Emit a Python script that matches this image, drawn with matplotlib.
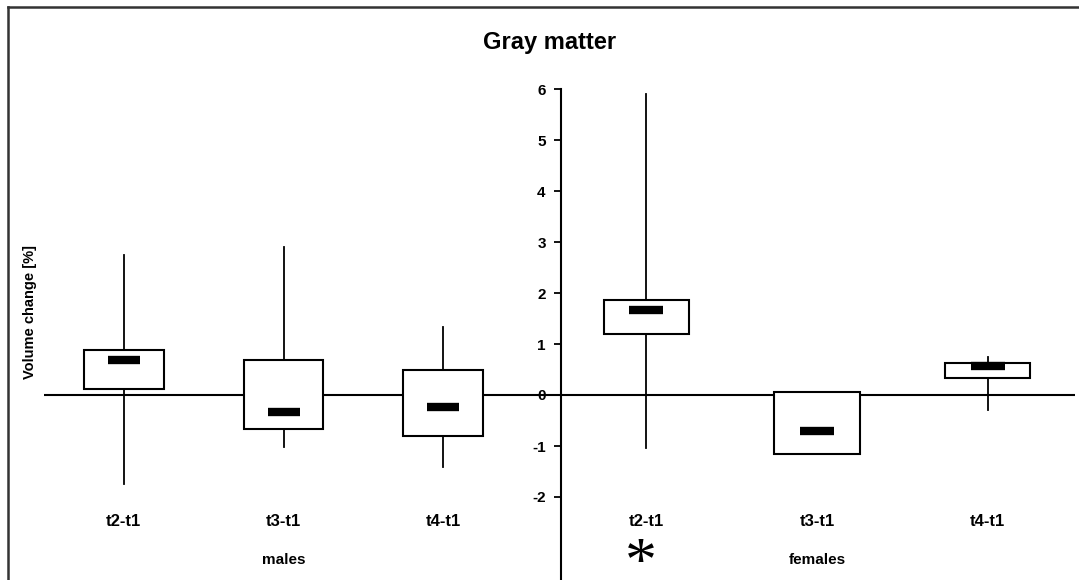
import matplotlib.pyplot as plt
from matplotlib.lines import Line2D

plt.rcParams['font.family'] = ['Liberation Sans', 'DejaVu Sans']
plt.rcParams['axes.unicode_minus'] = False

# volume change [%] per interval
intervals = ['t2-t1', 't3-t1', 't4-t1']
groups = ['males', 'females']

males_med = [0.69, -0.33, -0.23]
males_q1 = [0.11, -0.66, -0.80]
males_q3 = [0.88, 0.69, 0.49]
males_lo = [-1.75, -1.01, -1.41]
males_hi = [2.75, 2.91, 1.34]

females_med = [1.67, -0.71, 0.57]
females_q1 = [1.19, -1.16, 0.33]
females_q3 = [1.86, 0.05, 0.63]
females_lo = [-1.03, -1.16, -0.29]
females_hi = [5.90, 0.05, 0.75]

yticks = [-2, -1, 0, 1, 2, 3, 4, 5, 6]
ylo, yhi = -3.6, 6.2

fig = plt.figure(figsize=(10.79, 5.80), dpi=100)
W, H = 1079.0, 580.0
bottom = 1 - 578.6 / H
height = (yhi - ylo) * 51 / H
ax_m = fig.add_axes([44 / W, bottom, (561 - 44) / W, height])
ax_f = fig.add_axes([561 / W, bottom, (1075 - 561) / W, height])


def draw_group(ax, med, q1, q3, lo, hi, label):
    stats = []
    for i in range(len(med)):
        stats.append(dict(med=med[i], q1=q1[i], q3=q3[i], whislo=lo[i], whishi=hi[i]))
    ax.axhline(0, color='black', lw=1.5, zorder=1)
    ax.bxp(stats, positions=range(len(med)), widths=0.5, showcaps=False,
           showfliers=False, patch_artist=True,
           boxprops=dict(facecolor='white', edgecolor='black', lw=1.5),
           whiskerprops=dict(color='black', lw=1.3),
           medianprops=dict(visible=False), zorder=2)
    ax.hlines(med, [i - 0.1 for i in range(len(med))], [i + 0.1 for i in range(len(med))],
              colors='black', lw=6, zorder=3)
    for i, name in enumerate(intervals):
        ax.text(i, -2.49, name, ha='center', va='center', fontsize=12, fontweight='bold')
    ax.text(1, -3.24, label, ha='center', va='center', fontsize=11, fontweight='bold')
    ax.set_ylim(ylo, yhi)
    ax.set_xticks([])
    for s in ['top', 'right', 'bottom', 'left']:
        ax.spines[s].set_visible(False)


draw_group(ax_m, males_med, males_q1, males_q3, males_lo, males_hi, groups[0])
ax_m.set_xlim(-0.5, 2.5 + 38 / 160)
ax_m.set_yticks([])

draw_group(ax_f, females_med, females_q1, females_q3, females_lo, females_hi, groups[1])
ax_f.set_xlim(-0.5, 2.5 + 2 / 171)
ax_f.spines['left'].set_visible(True)
ax_f.spines['left'].set_linewidth(1.5)
ax_f.spines['left'].set_bounds(ylo, 6)
ax_f.set_yticks(yticks)
ax_f.tick_params(axis='y', direction='out', length=5, width=1.3, pad=6, labelsize=11)
for t in ax_f.get_yticklabels():
    t.set_fontweight('bold')

# significance mark
ax_f.text(-0.03, -3.36, '*', ha='center', va='center', fontsize=46,
          family='Liberation Serif')

fig.text(550 / W, 1 - 42 / H, 'Gray matter', ha='center', va='center',
         fontsize=17, fontweight='bold')
fig.text(30 / W, 1 - 312 / H, 'Volume change [%]', ha='center', va='center',
         rotation=90, fontsize=10.5, fontweight='bold')

# frame around the figure
fig.add_artist(Line2D([8 / W, 1], [1 - 7 / H, 1 - 7 / H], color='#333333', lw=1.8,
                      transform=fig.transFigure))
fig.add_artist(Line2D([8 / W, 8 / W], [0, 1 - 7 / H], color='#333333', lw=1.8,
                      transform=fig.transFigure))

fig.savefig('out.png', dpi=100)
